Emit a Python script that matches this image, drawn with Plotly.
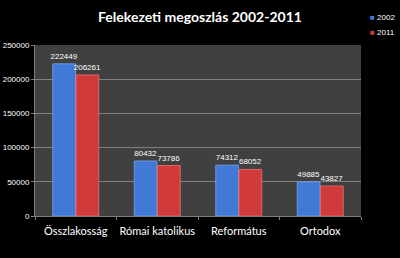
import plotly.graph_objects as go

categories = ["Összlakosság", "Római katolikus", "Református", "Ortodox"]
v2002 = [222449, 80432, 74312, 49885]
v2011 = [206261, 73786, 68052, 43827]
yticks = [0, 50000, 100000, 150000, 200000, 250000]
series = [("2002", v2002, "#4079d6", "#79a6f0"), ("2011", v2011, "#d13a3a", "#f07070")]

fig = go.Figure()
for name, vals, col, edge in series:
    fig.add_trace(go.Bar(
        x=categories, y=vals, name=name, showlegend=False,
        marker=dict(color=col, line=dict(color=edge, width=0.8)),
        text=[str(v) for v in vals], textposition="outside",
        constraintext="none",
        textfont=dict(size=8, color="#ffffff", family="Liberation Sans"),
        cliponaxis=False,
    ))

# legend drawn as text entries with coloured squares
for i, (name, vals, col, edge) in enumerate(series):
    fig.add_annotation(
        xref="paper", yref="paper", x=1.02, y=(258 - 17 - 15 * i - 42) / 171.0,
        xanchor="left", yanchor="middle", showarrow=False,
        text=f"<span style='color:{col}'>■</span> {name}",
        font=dict(family="Liberation Sans", size=8, color="#ffffff"),
    )

fig.update_layout(
    width=400, height=258,
    margin=dict(l=35, r=39, t=45, b=42),
    paper_bgcolor="#000000",
    plot_bgcolor="#404040",
    barmode="group",
    bargap=0.43,
    bargroupgap=0.02,
    title=dict(text="<b>Felekezeti megoszlás 2002-2011</b>", x=0.5, xanchor="center",
               y=0.935, yanchor="middle",
               font=dict(family="Lato", size=14, color="#ffffff")),
    showlegend=False,
)
fig.update_yaxes(
    range=[0, 250000], tickvals=yticks, ticktext=[str(t) for t in yticks],
    showgrid=True, gridcolor="#808080", gridwidth=1, automargin=False,
    showline=True, linecolor="#808080", ticks="outside", ticklen=3, tickcolor="#808080",
    tickfont=dict(family="Liberation Sans", size=8, color="#ffffff"),
    zeroline=False,
)
fig.update_xaxes(
    showline=True, linecolor="#808080", ticks="outside", ticklen=3, tickcolor="#808080",
    tickson="boundaries", tickangle=0, automargin=False, ticklabelstandoff=5,
    tickfont=dict(family="Lato", size=11, color="#ffffff"),
)
fig.write_html("out.html")
